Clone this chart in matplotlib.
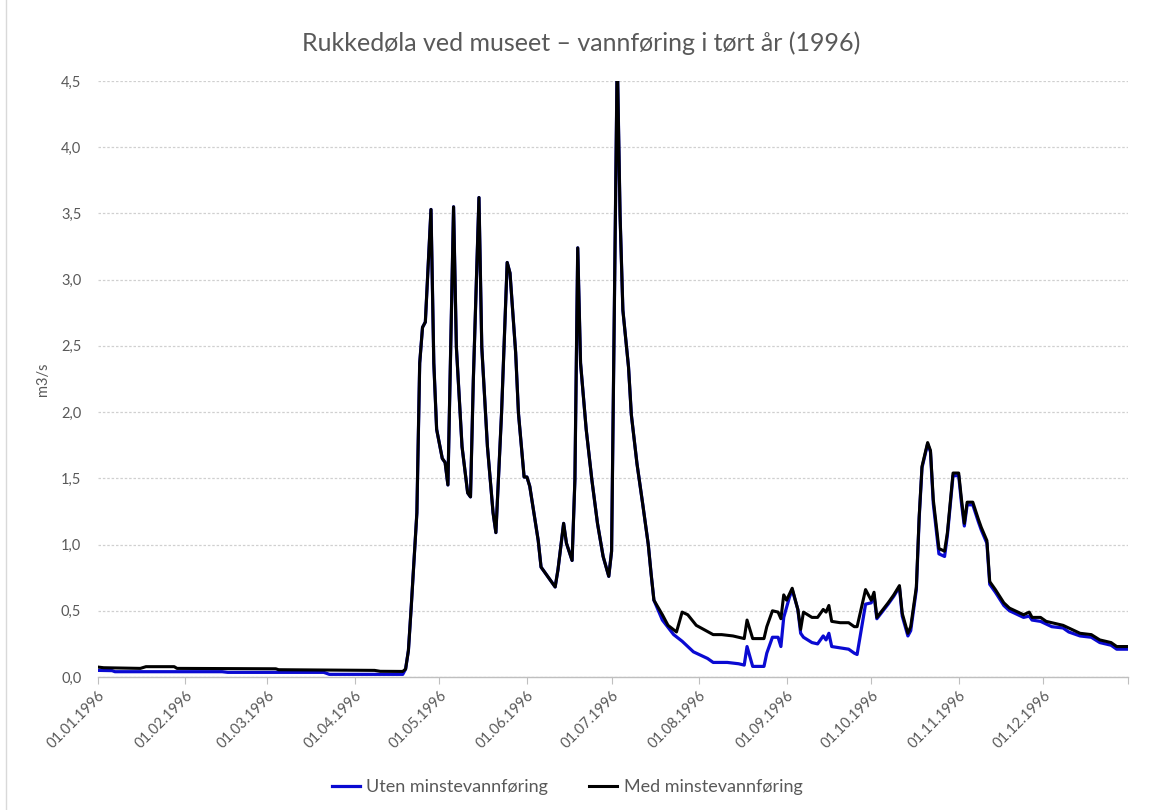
import matplotlib
matplotlib.use("Agg")
import matplotlib.pyplot as plt
from matplotlib.lines import Line2D
import pandas as pd

# Day numbers are counted from 1 January 1996 (day 0); flow in m3/s
winter_black_days = [0, 2, 15, 17, 27, 28, 63, 64, 98, 100, 108]
winter_black_q = [0.075, 0.07, 0.065, 0.078, 0.078, 0.065, 0.062, 0.055, 0.05, 0.043, 0.042]
winter_blue_days = [0, 5, 6, 44, 46, 80, 82, 108]
winter_blue_q = [0.05, 0.048, 0.04, 0.04, 0.035, 0.035, 0.02, 0.02]

# spring flood, both series practically equal
flood_days = [109, 110, 111, 113, 114, 115, 116, 118, 119, 120, 122, 123, 124, 126, 127,
              129, 131, 132, 133, 135, 136, 138, 140, 141, 143, 145, 146, 148, 149, 151,
              152, 153, 156, 157, 159, 162, 163, 165, 166, 168, 169, 170, 171, 173, 175,
              177, 179, 181, 182, 184, 185, 186, 188, 189, 191, 193, 195, 196, 197]
flood_q = [0.06, 0.2, 0.53, 1.24, 2.37, 2.64, 2.68, 3.53, 2.37, 1.87, 1.65, 1.62, 1.45, 3.55, 2.49,
           1.74, 1.39, 1.36, 2.24, 3.62, 2.49, 1.74, 1.24, 1.09, 1.99, 3.13, 3.05, 2.45, 1.99, 1.51,
           1.51, 1.44, 1.03, 0.83, 0.77, 0.68, 0.81, 1.16, 1.01, 0.88, 1.49, 3.24, 2.37, 1.87, 1.49,
           1.16, 0.91, 0.76, 0.95, 4.7, 3.49, 2.77, 2.34, 1.98, 1.61, 1.31, 1.00, 0.78, 0.58]

summer_black_days = [200, 202, 205, 207, 209, 212, 218, 221, 225, 229, 230, 232, 236, 237, 239, 241,
                     242, 243, 244, 246, 248, 249, 250, 253, 255, 257, 258, 259, 260, 263, 266, 268,
                     269, 272, 274, 275]
summer_black_q = [0.47, 0.39, 0.34, 0.49, 0.47, 0.39, 0.32, 0.32, 0.31, 0.29, 0.43, 0.29, 0.29, 0.38, 0.50, 0.49,
                  0.44, 0.62, 0.58, 0.67, 0.51, 0.36, 0.49, 0.45, 0.45, 0.51, 0.49, 0.54, 0.42, 0.41, 0.41, 0.38,
                  0.38, 0.66, 0.58, 0.64]
summer_blue_days = [200, 204, 207, 211, 216, 218, 223, 227, 229, 230, 232, 236, 237, 239, 241, 242,
                    243, 245, 246, 248, 249, 250, 253, 255, 257, 258, 259, 260, 263, 266, 268, 269,
                    272, 274, 275]
summer_blue_q = [0.43, 0.32, 0.27, 0.19, 0.14, 0.11, 0.11, 0.10, 0.09, 0.23, 0.08, 0.08, 0.18, 0.30, 0.30, 0.23,
                 0.45, 0.60, 0.66, 0.51, 0.33, 0.30, 0.26, 0.25, 0.31, 0.28, 0.33, 0.23, 0.22, 0.21, 0.18, 0.17,
                 0.55, 0.56, 0.62]

autumn_days = [276, 280, 282, 284, 285, 287, 288, 290, 291, 292, 294, 295, 296, 298, 300, 301,
               303, 305, 306, 307, 308, 310, 312, 313, 315, 316, 318, 321, 323, 326, 328, 330,
               331, 334, 336, 338, 342, 344, 348, 352, 355, 359, 361, 365]
autumn_black_q = [0.45, 0.56, 0.62, 0.69, 0.48, 0.33, 0.38, 0.68, 1.21, 1.59, 1.77, 1.71, 1.34, 0.97, 0.95, 1.09,
                  1.54, 1.54, 1.34, 1.16, 1.32, 1.32, 1.19, 1.13, 1.03, 0.72, 0.66, 0.56, 0.52, 0.49, 0.47, 0.49,
                  0.45, 0.45, 0.42, 0.41, 0.39, 0.37, 0.33, 0.32, 0.28, 0.26, 0.23, 0.23]
autumn_blue_q = [0.44, 0.55, 0.61, 0.68, 0.46, 0.31, 0.35, 0.66, 1.20, 1.58, 1.76, 1.70, 1.31, 0.93, 0.91, 1.07,
                 1.52, 1.52, 1.31, 1.14, 1.30, 1.30, 1.17, 1.11, 1.01, 0.70, 0.64, 0.54, 0.50, 0.47, 0.45, 0.46,
                 0.43, 0.42, 0.40, 0.38, 0.37, 0.34, 0.31, 0.30, 0.26, 0.24, 0.21, 0.21]

y_ticks = [0.0, 0.5, 1.0, 1.5, 2.0, 2.5, 3.0, 3.5, 4.0, 4.5]
month_labels = ["01.01.1996", "01.02.1996", "01.03.1996", "01.04.1996", "01.05.1996", "01.06.1996",
                "01.07.1996", "01.08.1996", "01.09.1996", "01.10.1996", "01.11.1996", "01.12.1996"]

start = pd.Timestamp("1996-01-01")


def to_dates(days):
    return start + pd.to_timedelta(days, unit="D")


blue_days = winter_blue_days + flood_days + summer_blue_days + autumn_days
blue_q = winter_blue_q + flood_q + summer_blue_q + autumn_blue_q
black_days = winter_black_days + flood_days + summer_black_days + autumn_days
black_q = winter_black_q + flood_q + summer_black_q + autumn_black_q

GREY = "#595959"
plt.rcParams["font.family"] = ["Lato", "DejaVu Sans"]

fig = plt.figure(figsize=(11.57, 8.10), dpi=100)
ax = fig.add_axes([98 / 1157, 1 - 677 / 810, (1128 - 98) / 1157, (677 - 81) / 810])

ax.plot(to_dates(blue_days), blue_q, color="#0a0ad2", lw=2.3, label="Uten minstevannføring",
        solid_joinstyle="round")
ax.plot(to_dates(black_days), black_q, color="black", lw=2.2, label="Med minstevannføring",
        solid_joinstyle="round")

ax.set_ylim(0, 4.5)
ax.set_xlim(start, to_dates([365])[0])
ax.set_yticks(y_ticks)
ax.set_yticklabels([f"{v:.1f}".replace(".", ",") for v in y_ticks])
ax.grid(axis="y", color="#d0d0d0", lw=0.9, linestyle=(0, (2, 1.5)))
ax.set_axisbelow(True)

tick_pos = list(pd.date_range("1996-01-01", periods=12, freq="MS")) + [to_dates([365])[0]]
ax.set_xticks(tick_pos)
ax.set_xticklabels(month_labels + [""], rotation=45, ha="right", va="top",
                   rotation_mode="anchor", color=GREY, fontsize=10.5)
ax.tick_params(axis="x", length=5, color="#bfbfbf", pad=3)
ax.tick_params(axis="y", length=0, pad=12, labelcolor=GREY, labelsize=10.5)

for side in ["top", "right", "left"]:
    ax.spines[side].set_visible(False)
ax.spines["bottom"].set_color("#bfbfbf")
ax.spines["bottom"].set_linewidth(1.0)

ax.set_ylabel("m3/s", color=GREY, fontsize=10.5, labelpad=8)
fig.text(581 / 1157, 1 - 43 / 810, "Rukkedøla ved museet – vannføring i tørt år (1996)",
         ha="center", va="center", color=GREY, fontsize=18)

fig.legend(loc="center", bbox_to_anchor=(567 / 1157, 1 - 787 / 810), ncol=2, frameon=False,
           fontsize=13, handlelength=1.55, handletextpad=0.35, columnspacing=2.3, labelcolor=GREY)

fig.add_artist(Line2D([6 / 1157, 6 / 1157], [0, 1], color="#d9d9d9", lw=1.0))

fig.savefig("out.png", dpi=100, facecolor="white")
